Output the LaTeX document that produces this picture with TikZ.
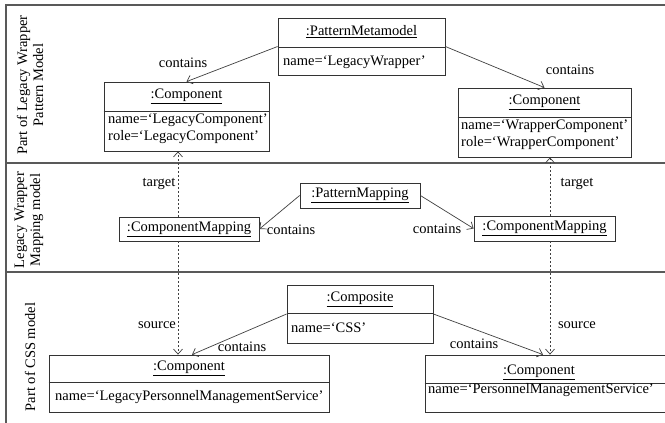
\documentclass[tikz,border=0pt]{standalone}
\usepackage{fontspec}
\setmainfont{Liberation Serif}
\usetikzlibrary{arrows.meta,calc}
\begin{document}
\begin{tikzpicture}[x=1pt,y=-1pt,
  font=\fontsize{14.5}{16}\selectfont,
  box/.style={draw=black!80, line width=0.8pt, inner sep=0pt},
  divider/.style={draw=black!80, line width=0.8pt},
  frame/.style={draw=black!65, line width=1.1pt},
  txt/.style={inner sep=0pt, anchor=west},
  ttl/.style={inner sep=0pt},
  conn/.style={draw=black!75, line width=0.7pt, -{Straight Barb[length=5pt,width=9pt]}},
  dep/.style={conn, dash pattern=on 2pt off 2pt},
  lbl/.style={inner sep=0pt}]
\clip (0,0) rectangle (665,423);
\fill[white] (0,0) rectangle (665,423);
% frame and separators
\draw[frame] (6,423) -- (6,5) -- (665,5);
\draw[frame] (6,163) -- (665,163);
\draw[frame] (6,272) -- (665,272);
% section labels
\node[ttl, rotate=90, align=center] (s1) at (30,85) {Part of Legacy Wrapper\\Pattern Model};
\node[ttl, rotate=90, align=center] (s2) at (29,220) {Legacy Wrapper\\Mapping model};
\node[ttl, rotate=90] (s3) at (30,357) {Part of CSS model};
% boxes
\node[box, minimum width=167, minimum height=57] (pm) at (361.5,46.5) {};
\draw[divider] (pm.west |- 0,47) -- (pm.east |- 0,47);
\node[ttl] (pmt) at (361.5,32) {\underline{:PatternMetamodel}};
\node[txt] (pma) at (283,62) {name=‘LegacyWrapper’};

\node[box, minimum width=165, minimum height=69] (lc) at (186.5,116.5) {};
\draw[divider] (lc.west |- 0,111) -- (lc.east |- 0,111);
\node[ttl] (lct) at (186.5,96) {\underline{:Component}};
\node[txt] (lca) at (108,120) {name=‘LegacyComponent’};
\node[txt] (lcb) at (108,137) {role=‘LegacyComponent’};

\node[box, minimum width=173, minimum height=69] (rc) at (544.5,122.5) {};
\draw[divider] (rc.west |- 0,117) -- (rc.east |- 0,117);
\node[ttl] (rct) at (544.5,102) {\underline{:Component}};
\node[txt] (rca) at (461,126) {name=‘WrapperComponent’};
\node[txt] (rcb) at (461,143) {role=‘WrapperComponent’};

\node[box, minimum width=120, minimum height=25] (pmap) at (360,195.5) {\underline{:PatternMapping}};
\node[box, minimum width=140, minimum height=24] (cml) at (189,229) {\underline{:ComponentMapping}};
\node[box, minimum width=141, minimum height=25] (cmr) at (544.5,228.5) {\underline{:ComponentMapping}};

\node[box, minimum width=146, minimum height=58] (comp) at (360,314) {};
\draw[divider] (comp.west |- 0,313) -- (comp.east |- 0,313);
\node[ttl] (compt) at (360,299) {\underline{:Composite}};
\node[txt] (compa) at (291,328) {name=‘CSS’};

\node[box, minimum width=280, minimum height=57] (blc) at (189,383.5) {};
\draw[divider] (blc.west |- 0,382) -- (blc.east |- 0,382);
\node[ttl] (blct) at (189,368) {\underline{:Component}};
\node[txt] (blca) at (55,397) {name=‘LegacyPersonnelManagementService’};

\node[box, minimum width=245, minimum height=57] (brc) at (547.5,383.5) {};
\draw[divider] (brc.west |- 0,383) -- (brc.east |- 0,383);
\node[ttl] (brct) at (539,372) {\underline{:Component}};
\node[txt] (brca) at (428,390) {name=‘PersonnelManagementService’};

% connectors
\draw[conn] (pm.west) -- (lc.north);
\draw[conn] (pm.east) -- (rc.north);
\draw[conn] (pmap.west) -- (cml.east);
\draw[conn] (pmap.east) -- (cmr.west);
\draw[dep] ([xshift=-11]cml.north) -- ([xshift=-11]cml.north |- lc.south);
\draw[dep] ([xshift=-11]cml.south) -- ([xshift=-11]cml.south |- blc.north);
\draw[dep] ([xshift=5.5]cmr.north) -- ([xshift=5.5]cmr.north |- rc.south);
\draw[dep] ([xshift=5.5]cmr.south) -- ([xshift=5.5]cmr.south |- brc.north);
\draw[conn] (comp.west) -- ([xshift=3]blc.north);
\draw[conn] (comp.east) -- ([xshift=-4.5]brc.north);

% connector labels
\node[lbl] (l1) at (183,63) {contains};
\node[lbl] (l2) at (570,70) {contains};
\node[lbl] (l3) at (159,184) {target};
\node[lbl] (l4) at (577,184) {target};
\node[lbl] (l5) at (291,230) {contains};
\node[lbl] (l6) at (437,229) {contains};
\node[lbl] (l7) at (157,325) {source};
\node[lbl] (l8) at (577,325) {source};
\node[lbl] (l9) at (242,347) {contains};
\node[lbl] (l10) at (474,344) {contains};
\end{tikzpicture}
\end{document}
